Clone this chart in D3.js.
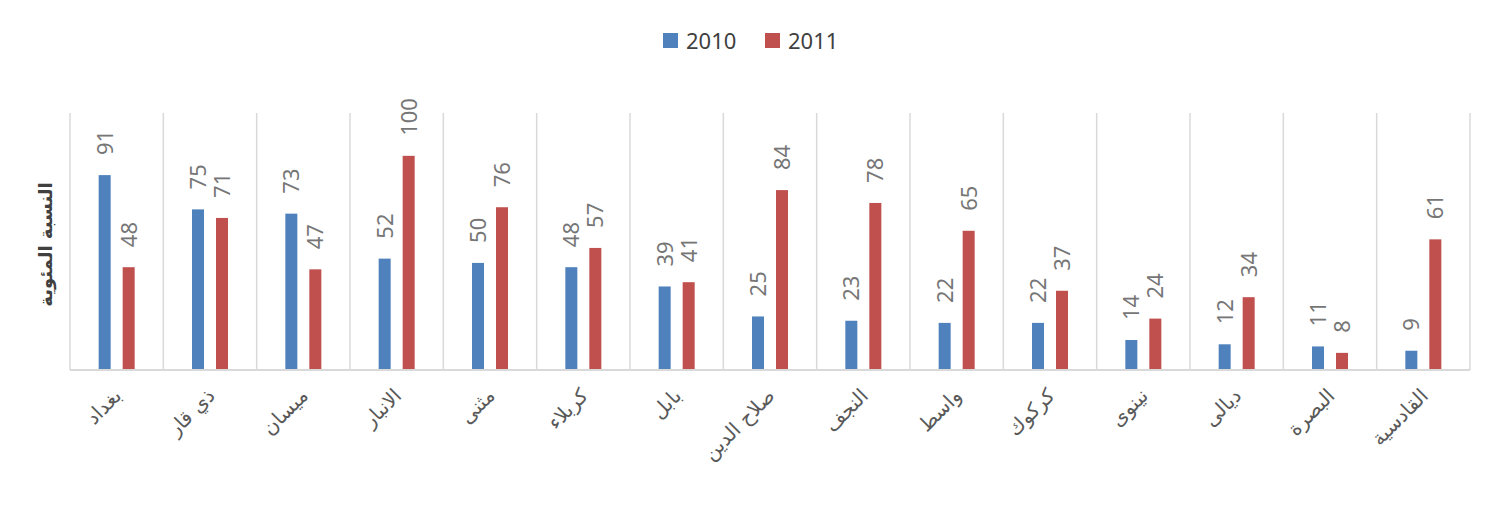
<!DOCTYPE html>
<html>
<head>
<meta charset="utf-8">
<script src="https://cdn.jsdelivr.net/npm/d3@7"></script>
<style>
  body { margin: 0; background: #fff; }
</style>
</head>
<body>
<div id="chart"></div>
<script>
const provinces = ["بغداد", "ذي قار", "ميسان", "الانبار", "مثنى", "كربلاء", "بابل", "صلاح الدين",
    "النجف", "واسط", "كركوك", "نينوى", "ديالى", "البصرة", "القادسية"];
const years = ["2010", "2011"];
const values2010 = [91, 75, 73, 52, 50, 48, 39, 25, 23, 22, 22, 14, 12, 11, 9];
const values2011 = [48, 71, 47, 100, 76, 57, 41, 84, 78, 65, 37, 24, 34, 8, 61];
const yTitle = "النسبة المئوية";

const width = 1500;
const height = 509;
const margin = { top: 113, right: 30, bottom: 139, left: 70 };
const colors = ["#4f81bd", "#c0504d"];

const svg = d3.select("#chart")
    .append("svg")
    .attr("width", width)
    .attr("height", height);

const x = d3.scaleBand()
    .domain(provinces)
    .range([margin.left, width - margin.right]);

const x1 = d3.scaleBand()
    .domain(years)
    .range([x.bandwidth() / 2 - 18, x.bandwidth() / 2 + 18])
    .paddingInner(0.5);

const y = d3.scaleLinear()
    .domain([0, 120])
    .range([height - margin.bottom, margin.top]);

// vertical category separators
svg.append("g")
    .selectAll("line")
    .data(provinces.concat(["end"]))
    .join("line")
    .attr("x1", (d, i) => margin.left + i * x.bandwidth())
    .attr("x2", (d, i) => margin.left + i * x.bandwidth())
    .attr("y1", y(120))
    .attr("y2", y(0))
    .attr("stroke", "#d9d9d9")
    .attr("stroke-width", 1.5);

const rows = provinces.map((p, i) => ({ province: p, vals: [values2010[i], values2011[i]] }));

const group = svg.append("g")
    .selectAll("g")
    .data(rows)
    .join("g")
    .attr("transform", d => `translate(${x(d.province)},0)`);

group.selectAll("rect")
    .data(d => d.vals.map((v, j) => ({ year: years[j], v })))
    .join("rect")
    .attr("x", d => x1(d.year))
    .attr("width", x1.bandwidth())
    .attr("y", d => y(d.v))
    .attr("height", d => y(0) - y(d.v))
    .attr("fill", (d, j) => colors[j]);

group.selectAll("text.val")
    .data(d => d.vals.map((v, j) => ({ year: years[j], v })))
    .join("text")
    .attr("class", "val")
    .attr("transform", d => `translate(${x1(d.year) + x1.bandwidth() / 2},${y(d.v) - 20}) rotate(-90)`)
    .attr("dy", "0.36em")
    .attr("font-family", "Noto Sans, sans-serif")
    .attr("font-size", 22)
    .attr("fill", "#767676")
    .text(d => d.v);

// baseline
svg.append("line")
    .attr("x1", margin.left)
    .attr("x2", width - margin.right)
    .attr("y1", y(0))
    .attr("y2", y(0))
    .attr("stroke", "#d9d9d9")
    .attr("stroke-width", 2);

// category labels
svg.append("g")
    .selectAll("text")
    .data(provinces)
    .join("text")
    .attr("transform", d => `translate(${x(d) + x.bandwidth() / 2 + 6},${y(0) + 27}) rotate(-45)`)
    .attr("text-anchor", "end")
    .attr("font-family", "DejaVu Sans, sans-serif")
    .attr("font-size", 20)
    .attr("fill", "#595959")
    .text(d => d);

// y axis title
svg.append("text")
    .attr("transform", `translate(52,${(y(0) + y(120)) / 2 + 3}) rotate(-90)`)
    .attr("text-anchor", "middle")
    .attr("font-family", "DejaVu Sans, sans-serif")
    .attr("font-weight", "bold")
    .attr("font-size", 18)
    .attr("fill", "#404040")
    .text(yTitle);

// legend
const legend = svg.append("g")
    .selectAll("g")
    .data(years)
    .join("g")
    .attr("transform", (d, i) => `translate(${663 + i * 102},33)`);

legend.append("rect")
    .attr("width", 15)
    .attr("height", 15)
    .attr("fill", (d, i) => colors[i]);

legend.append("text")
    .attr("x", 23)
    .attr("y", 16)
    .attr("font-family", "Noto Sans, sans-serif")
    .attr("font-size", 22)
    .attr("fill", "#404040")
    .text(d => d);
</script>
</body>
</html>
